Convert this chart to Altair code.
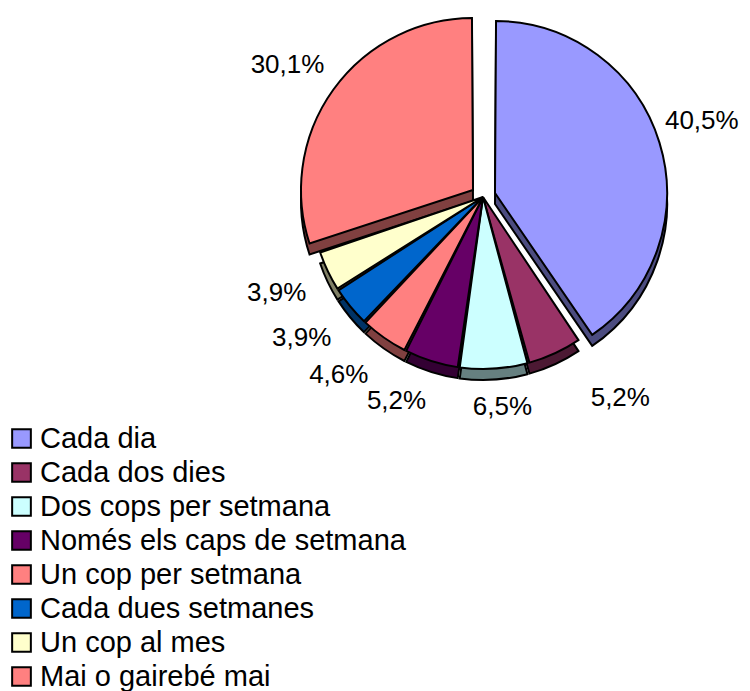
import altair as alt
import pandas as pd

categories = ["Cada dia", "Cada dos dies", "Dos cops per setmana", "Només els caps de setmana",
              "Un cop per setmana", "Cada dues setmanes", "Un cop al mes", "Mai o gairebé mai"]
values = [40.5, 5.2, 6.5, 5.2, 4.6, 3.9, 3.9, 30.1]
labels = ["40,5%", "5,2%", "6,5%", "5,2%", "4,6%", "3,9%", "3,9%", "30,1%"]
colors = ["#9999FF", "#993366", "#CCFFFF", "#660066", "#FF8080", "#0066CC", "#FFFFCC", "#FF8080"]
side_colors = ["#4C4C80", "#4C1933", "#668080", "#330033", "#804040", "#003366", "#808066", "#804040"]

# style: small nudges of the data labels (px), as Excel placed them
LABEL_DX = [-3, 47, 6, -22, -18, -8, 1, -12]
LABEL_DY = [-8, 5, -3, -1, -1, -2, -3, 0]

df = pd.DataFrame({"cat": categories, "val": values, "lab": labels, "idx": list(range(len(categories)))})
lab_df = df.assign(ndx=LABEL_DX, ndy=LABEL_DY)

FONT = "Liberation Sans"
R = 172
CX, CY = 475, 189
DEPTH = 11
PAD = 0.012
EXPLODED = {"Cada dia": (12, -4), "Mai o gairebé mai": (-10, -7)}
LAB_A, LAB_B = 234, 213  # horizontal / vertical label radius (ellipse)

theta = alt.Theta("val:Q", stack=True)
order = alt.Order("idx:Q", sort="ascending")

def is_exploded():
    return (alt.datum.cat == "Cada dia") | (alt.datum.cat == "Mai o gairebé mai")

def arc_layer(cx, cy, range_, show, legend=None):
    if show is None:
        op = alt.when(is_exploded()).then(alt.value(0)).otherwise(alt.value(1))
    else:
        op = alt.when(alt.datum.cat == show).then(alt.value(1)).otherwise(alt.value(0))
    return alt.Chart(df).mark_arc(outerRadius=R, padAngle=PAD, stroke="black", strokeWidth=2).encode(
        theta=theta,
        order=order,
        color=alt.Color("cat:N", sort=categories,
                        scale=alt.Scale(domain=categories, range=range_), legend=legend),
        opacity=op,
        x=alt.value(cx), y=alt.value(cy),
    )

legend = alt.Legend(title=None, orient="none", legendX=-1, legendY=416,
                    symbolType="square", symbolSize=350, symbolStrokeColor="black",
                    symbolStrokeWidth=2, symbolOpacity=1, labelFont=FONT, labelFontSize=29,
                    labelColor="black", labelOffset=4, rowPadding=4, padding=0,
                    labelLimit=500)

layers = []
layers.append(arc_layer(CX, CY + DEPTH, side_colors, None))
for name, (dx, dy) in EXPLODED.items():
    layers.append(arc_layer(CX + dx, CY + dy + DEPTH, side_colors, name))
layers.append(arc_layer(CX, CY, colors, None, legend))
for name, (dx, dy) in EXPLODED.items():
    layers.append(arc_layer(CX + dx, CY + dy, colors, name))

text = alt.Chart(lab_df).transform_window(
    cum="sum(val)", sort=[alt.SortField("idx", order="ascending")], frame=[None, 0]
).transform_joinaggregate(
    total="sum(val)"
).transform_calculate(
    mid="(datum.cum - datum.val / 2) / datum.total * 2 * PI",
    lx=f"{CX} + datum.ndx",
    ly=f"{CY} + datum.ndy",
).transform_calculate(
    lr=f"{LAB_A} * {LAB_B} / sqrt(pow({LAB_B} * sin(datum.mid), 2) + pow({LAB_A} * cos(datum.mid), 2))"
).mark_text(font=FONT, fontSize=26, color="black").encode(
    theta=alt.Theta("mid:Q", scale=None, stack=False),
    radius=alt.Radius("lr:Q", scale=None),
    text="lab:N",
    x=alt.X("lx:Q", scale=None, axis=None),
    y=alt.Y("ly:Q", scale=None, axis=None),
)
layers.append(text)

chart = alt.layer(*layers).resolve_scale(color="independent", theta="independent").properties(
    width=734, height=683, autosize=alt.AutoSizeParams(type="none"), padding=0,
).configure_view(stroke=None)

chart.save("out.html", embed_options={"renderer": "svg", "actions": False})
